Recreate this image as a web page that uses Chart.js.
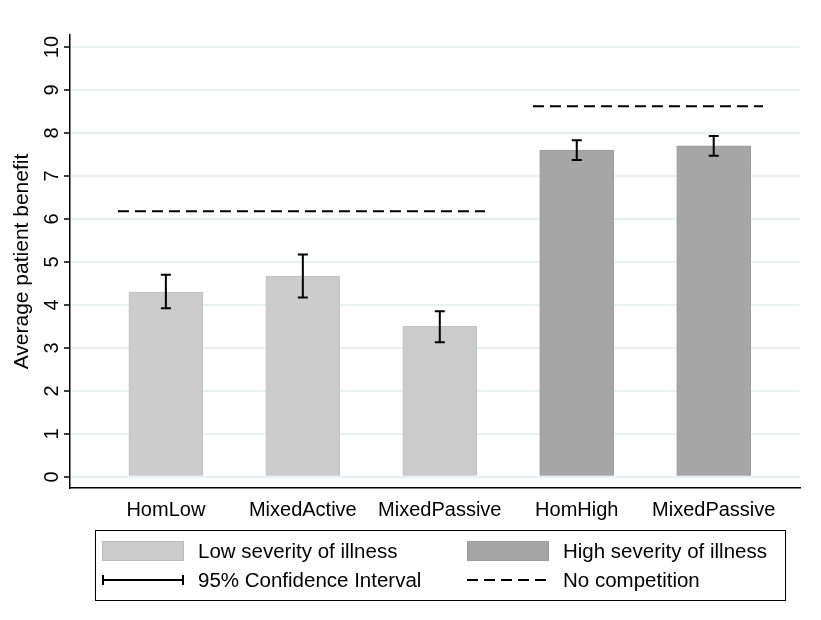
<!DOCTYPE html>
<html><head><meta charset="utf-8">
<script src="https://cdn.jsdelivr.net/npm/chart.js@4"></script>
<style>
body{margin:0;background:#fff;font-family:"Liberation Sans",Arial,sans-serif}
#wrap{position:relative;width:821px;height:620px}
#legend{position:absolute;left:95px;top:530px;width:691px;height:71px;border:1px solid #000;box-sizing:border-box;font-size:20.5px;color:#000}
.it{position:absolute;display:flex;align-items:center}
.sw{width:82px;height:20px;margin-right:14px;box-sizing:border-box}
</style></head><body>
<div id="wrap">
<canvas id="c" width="821" height="620"></canvas>
<div id="legend">
 <div class="it" style="left:6px;top:8px"><div class="sw" style="background:#cccccc;border:1px solid #bbb"></div>Low severity of illness</div>
 <div class="it" style="left:371px;top:8px"><div class="sw" style="background:#a6a6a6;border:1px solid #999"></div>High severity of illness</div>
 <div class="it" style="left:6px;top:37px"><svg width="82" height="20" style="margin-right:14px"><path d="M1 10H81M1 5V15M81 5V15" stroke="#000" stroke-width="2"/></svg>95% Confidence Interval</div>
 <div class="it" style="left:371px;top:37px"><svg width="82" height="20" style="margin-right:14px"><path d="M0 10H82" stroke="#000" stroke-width="2" stroke-dasharray="11 6"/></svg>No competition</div>
</div>
</div>
<script>
const categories = ['HomLow','MixedActive','MixedPassive','HomHigh','MixedPassive'];
const lowValues = [4.30, 4.67, 3.50];
const highValues = [7.60, 7.70];
const ciLow = [3.92, 4.17, 3.13, 7.37, 7.47];
const ciHigh = [4.70, 5.17, 3.85, 7.83, 7.93];
const noCompLow = 6.18;
const noCompHigh = 8.62;
const yTicks = [0,1,2,3,4,5,6,7,8,9,10];

const errPlugin = {
  id: 'err',
  afterDatasetsDraw(chart) {
    const ctx = chart.ctx, xs = chart.scales.x, ys = chart.scales.y;
    ctx.save();
    ctx.strokeStyle = '#000'; ctx.lineWidth = 2;
    categories.forEach((c, i) => {
      const x = xs.getPixelForValue(i), y1 = ys.getPixelForValue(ciLow[i]), y2 = ys.getPixelForValue(ciHigh[i]);
      ctx.beginPath();
      ctx.moveTo(x, y1); ctx.lineTo(x, y2);
      ctx.moveTo(x - 5, y1); ctx.lineTo(x + 5, y1);
      ctx.moveTo(x - 5, y2); ctx.lineTo(x + 5, y2);
      ctx.stroke();
    });
    // rotated y tick labels
    ctx.fillStyle = '#000'; ctx.font = '20px "Liberation Sans", Arial';
    ctx.textAlign = 'center'; ctx.textBaseline = 'bottom';
    yTicks.forEach(v => {
      ctx.save();
      ctx.translate(ys.right - 8, ys.getPixelForValue(v));
      ctx.rotate(-Math.PI / 2);
      ctx.fillText(String(v), 0, 0);
      ctx.restore();
    });
    ctx.restore();
  }
};

new Chart(document.getElementById('c'), {
  type: 'bar',
  data: {
    datasets: [
      { type: 'line', data: [{x:-0.35,y:noCompLow},{x:2.33,y:noCompLow}], borderColor:'#000', borderWidth:2, borderDash:[11,6], pointRadius:0 },
      { type: 'line', data: [{x:2.68,y:noCompHigh},{x:4.36,y:noCompHigh}], borderColor:'#000', borderWidth:2, borderDash:[11,6], pointRadius:0 },
      { data: lowValues.map((v,i)=>({x:i,y:v})), backgroundColor:'#cccccc', borderColor:'#c2c2c2', borderWidth:1, barThickness:74, grouped:false },
      { data: highValues.map((v,i)=>({x:i+3,y:v})), backgroundColor:'#a6a6a6', borderColor:'#9a9a9a', borderWidth:1, barThickness:74, grouped:false }
    ]
  },
  options: {
    responsive:false, animation:false,
    layout:{padding:{top:35,right:21,left:10,bottom:0}},
    plugins:{legend:{display:false},tooltip:{enabled:false}},
    scales:{
      x:{ type:'linear', min:-0.70, max:4.63, offset:false,
        afterBuildTicks: s => { s.ticks = categories.map((c,i)=>({value:i})); },
        afterFit: s => { s.height = 132; },
        ticks:{ callback:(v)=>categories[v], color:'#000', font:{size:20,family:'"Liberation Sans", Arial'}, padding:2, maxRotation:0, autoSkip:false },
        grid:{display:false}, border:{display:true,color:'#000',width:1.5}
      },
      y:{ min:-0.26, max:10.28,
        afterBuildTicks: s => { s.ticks = yTicks.map(v=>({value:v})); },
        afterFit: s => { s.width = 60; },
        ticks:{ display:true, color:'rgba(0,0,0,0)', font:{size:17}, padding:4 },
        grid:{ color:'#eaf1f2', lineWidth:2, tickColor:'#000', tickLength:6, tickWidth:1.5 },
        border:{display:true,color:'#000',width:1.5},
        title:{display:true,text:'Average patient benefit',color:'#000',font:{size:21,family:'"Liberation Sans", Arial'},padding:0}
      }
    }
  },
  plugins:[errPlugin]
});
</script>
</body></html>
